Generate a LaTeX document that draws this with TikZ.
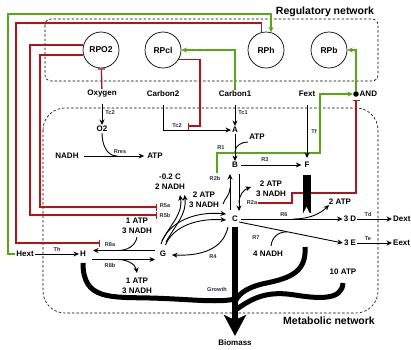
\documentclass[tikz,border=0pt]{standalone}
\usepackage{fontspec}
\setmainfont{Liberation Sans}
\usetikzlibrary{arrows.meta}
\definecolor{rcol}{RGB}{175,22,28}
\definecolor{gcol}{RGB}{88,168,22}
\definecolor{lblcol}{RGB}{40,40,72}
\begin{document}
\begin{tikzpicture}[x=1pt,y=-1pt,
  lab/.style={font=\bfseries\fontsize{8}{10}\selectfont, inner sep=1pt, align=center},
  sm/.style={font=\bfseries\fontsize{5.6}{6}\selectfont, text=lblcol, inner sep=0.5pt},
  rp/.style={circle, draw, line width=0.7pt, minimum size=36pt, inner sep=0pt, font=\bfseries\fontsize{8.5}{10}\selectfont},
  title/.style={font=\bfseries\fontsize{10.5}{12}\selectfont, inner sep=1pt},
  arr/.style={line width=0.9pt, -{Stealth[length=5.5pt,width=5pt]}},
  ln/.style={line width=0.9pt},
  gact/.style={gcol, line width=1.3pt, -{Stealth[length=5.5pt,width=5pt]}},
  rinh/.style={rcol, line width=1.3pt, -{Bar[width=7pt,line width=1.3pt]}},
  flux/.style={line width=5pt},
  netbox/.style={line width=0.6pt, dash pattern=on 2.5pt off 2pt}]
\useasboundingbox (0,0) rectangle (411,349);

% network boxes
\draw[netbox, rounded corners=6pt] (45,19) rectangle (378,81);
\draw[netbox, rounded corners=22pt] (43,108) rectangle (378,313);
\node[title] (regl) at (325,12) {Regulatory network};
\node[title] (metl) at (329,321) {Metabolic network};

% regulatory proteins
\node[rp] (RPO2) at (101,50) {RPO2};
\node[rp] (RPcl) at (163,50) {RPcl};
\node[rp] (RPh) at (266,50) {RPh};
\node[rp] (RPb) at (329,50) {RPb};

% species
\node[lab] (Oxy) at (102,94) {Oxygen};
\node[lab] (C2) at (163,94) {Carbon2};
\node[lab] (C1) at (235,94) {Carbon1};
\node[lab] (Fext) at (307,94) {Fext};
\node[circle, fill, inner sep=0pt, minimum size=5.6pt] (AND) at (356,94) {};
\node[lab, anchor=west] (ANDl) at (358.5,94) {AND};
\node[lab] (O2) at (102,129) {O2};
\node[lab] (A) at (235,130) {A};
\node[lab] (NADH) at (67,156) {NADH};
\node[lab] (ATPr) at (155,156) {ATP};
\node[lab] (ATPa) at (257,137) {ATP};
\node[lab] (B) at (235,165) {B};
\node[lab] (F) at (307,165) {F};
\node[lab] (C) at (235,219) {C};
\node[lab] (G) at (163,254) {G};
\node[lab] (H) at (83,254) {H};
\node[lab] (Hext) at (25,254) {Hext};
\node[lab] (D) at (350,219) {3 D};
\node[lab] (E) at (350,243) {3 E};
\node[lab, anchor=west] (Dext) at (392,219) {Dext};
\node[lab, anchor=west] (Eext) at (392,243) {Eext};

% side products
\node[lab] (mC) at (170,182) {-0.2 C\\2 NADH};
\node[lab] (pl) at (204,199.5) {2 ATP\\3 NADH};
\node[lab] (pr) at (271,188.5) {2 ATP\\3 NADH};
\node[lab] (p8a) at (137,226) {1 ATP\\3 NADH};
\node[lab] (p8b) at (137,286) {1 ATP\\3 NADH};
\node[lab] (p6) at (340,202) {2 ATP};
\node[lab] (p7) at (268,254) {4 NADH};
\node[lab] (p10) at (343,272) {10 ATP};
\node[lab] (Bio) at (235,343) {Biomass};

% reaction labels
\node[sm] (lTc2a) at (110,113) {Tc2};
\node[sm] (lTc2b) at (177,125.5) {Tc2};
\node[sm] (lTc1) at (243,113) {Tc1};
\node[sm] (lTf) at (314,131) {Tf};
\node[sm] (lRres) at (120,152) {Rres};
\node[sm] (lR1) at (221,148) {R1};
\node[sm] (lR3) at (265,160) {R3};
\node[sm] (lR2b) at (215,178) {R2b};
\node[sm] (lR2a) at (252,203) {R2a};
\node[sm] (lR5a) at (165,206) {R5a};
\node[sm] (lR5b) at (165,215) {R5b};
\node[sm] (lR6) at (284,215) {R6};
\node[sm] (lR4) at (213,257) {R4};
\node[sm] (lR7) at (256,238) {R7};
\node[sm] (lTd) at (368,214) {Td};
\node[sm] (lTe) at (368,238.5) {Te};
\node[sm] (lTh) at (57,249.5) {Th};
\node[sm] (lR8a) at (110,244.5) {R8a};
\node[sm] (lR8b) at (110,265) {R8b};
\node[sm] (lGr) at (217,289) {Growth};

% red inhibitions
\draw[rinh] (RPh.104) |- (16,23) |- (100,243);
\draw[rinh] (RPO2.164) -| (30,215) -- (157,215);
\draw[rinh] (RPO2.196) -| (40,207) -- (157,207);
\draw[rinh] (RPcl.-31) -| (200,126) -- (188,126);
\draw[rinh] (Oxy) -- (RPO2);
\draw[rinh, shorten >=3pt] (258,203) -- (292,203) -- (292,193) -- (356,193) -- (AND);

% green activations
\draw[gact] (Hext.west) -| (8,14) -| (RPh.74);
\draw[gact] (C1) |- (RPcl.east);
\draw[gact] (AND) |- (RPb.east);
\draw[gact] (217,173) -- (217,153) -- (320,153) -- (320,94) -- (AND);

% growth fluxes
\draw[line width=8pt] (306.5,175) -- (306.5,213);
\fill[white] (303.2,213.5) -- (306.5,207) -- (309.8,213.5) -- cycle;
\draw[flux] (83,263) .. controls (83,300) and (110,297) .. (150,298) .. controls (190,299) and (215,303) .. (236,299);
\draw[flux] (343,283) .. controls (342,300) and (320,299) .. (295,295) .. controls (270,291) and (255,296) .. (237,309);
\draw[flux] (305,247) .. controls (307,275) and (285,279) .. (262,284) .. controls (250,287) and (240,292) .. (236,300);
\draw[line width=6pt, -{Stealth[length=21pt,width=22pt,inset=5pt]}] (235,227) -- (235,336);

% black reactions
\draw[arr, shorten <=5pt] (Oxy) -- (O2);
\draw[arr] (163,105) |- (A.west);
\draw[arr, shorten <=7pt] (C1) -- (A);
\draw[arr, shorten <=7pt, shorten >=3pt] (Fext) -- (F);
\draw[arr, shorten <=4pt, shorten >=2pt] (NADH) -- (ATPr);
\draw[ln] (O2) to[out=-90,in=180] (117,156);
\draw[arr] (A) -- (B);
\draw[ln] (248,142) to[out=180,in=90] (235,152);
\draw[arr, shorten <=2pt, shorten >=2pt] (B) -- (F);
\draw[arr] (230,210) -- (230,174);
\draw[ln] (223,204) to[out=70,in=-90] (230,188);
\draw[arr] (239,174) -- (239,211);
\draw[arr] (239,203) to[out=90,in=200] (251,187);
\draw[arr] (161,244) .. controls (168,222) and (195,211) .. (226,214);
\draw[arr] (165.5,245) .. controls (173,226) and (198,218) .. (226,220);
\draw[arr] (162,241) .. controls (172,222) and (183,214) .. (180,195);
\draw[arr] (166,242) .. controls (176,224) and (187,214) .. (184.5,195);
\draw[arr] (228,227) .. controls (223,250) and (200,256) .. (172,255);
\draw[arr, shorten <=2pt] (C) -- (D);
\draw[arr] (293,219) .. controls (312,219) and (322,212) .. (329,205);
\draw[arr] (D) -- (Dext);
\draw[arr] ([yshift=-3pt]C.east) -- (E.west);
\draw[ln] (271,246) .. controls (272,237) and (278,232) .. (287,231.8);
\draw[arr] (E) -- (Eext);
\draw[arr] (Hext) -- (H);
\draw[arr] (155,250.5) -- (93,250.5);
\draw[arr] (92,259.5) -- (155,259.5);
\draw[ln] (137,237) to[out=-100,in=0] (118,250.5);
\draw[arr] (118,259.5) to[out=0,in=100] (137,273);
\end{tikzpicture}
\end{document}
